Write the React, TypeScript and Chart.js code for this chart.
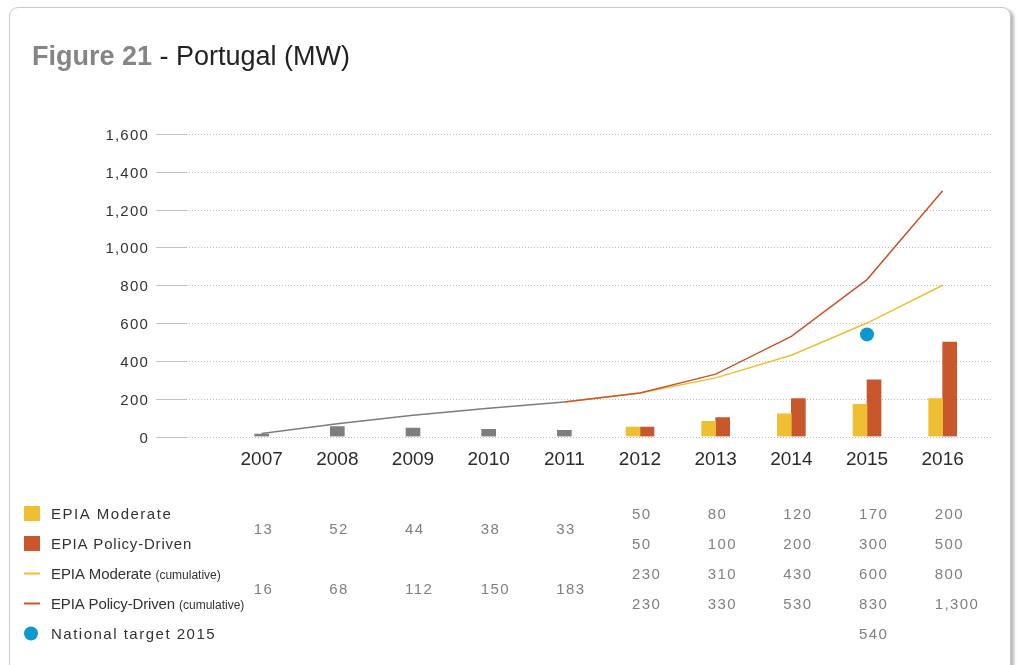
import React, { useEffect, useRef } from "react";
import { Chart, registerables } from "chart.js";

Chart.register(...registerables);

// ---------- data ----------
const years = [2007, 2008, 2009, 2010, 2011, 2012, 2013, 2014, 2015, 2016];
const historicalAnnual = [13, 52, 44, 38, 33, null, null, null, null, null];
const historicalCumulative = [16, 68, 112, 150, 183, null, null, null, null, null];
const moderateAnnual = [null, null, null, null, null, 50, 80, 120, 170, 200];
const policyAnnual = [null, null, null, null, null, 50, 100, 200, 300, 500];
const moderateCumulative = [null, null, null, null, 183, 230, 310, 430, 600, 800];
const policyCumulative = [null, null, null, null, 183, 230, 330, 530, 830, 1300];
const nationalTarget2015 = [null, null, null, null, null, null, null, null, 540, null];
const yTicks = [0, 200, 400, 600, 800, 1000, 1200, 1400, 1600];
const firstScenarioYearIndex = 5;

// ---------- style ----------
const YELLOW = "#F0BE32";
const ORANGE = "#C8572C";
const GRAY_BAR = "#7E7E82";
const GRAY_LINE = "#7C7C7C";
const BLUE = "#0A98CF";
const FONT = '"Liberation Sans", Arial, Helvetica, sans-serif';

const legendItems = [
  { label: "EPIA Moderate", sub: "", kind: "square", color: YELLOW, spacing: 1.5 },
  { label: "EPIA Policy-Driven", sub: "", kind: "square", color: ORANGE, spacing: 0.8 },
  { label: "EPIA Moderate", sub: "(cumulative)", kind: "line", color: YELLOW, spacing: -0.1 },
  { label: "EPIA Policy-Driven", sub: "(cumulative)", kind: "line", color: ORANGE, spacing: -0.15 },
  { label: "National target 2015", sub: "", kind: "dot", color: BLUE, spacing: 1.5 },
];

// table rows: values, row position (0 = first legend row), first index shown
const tableRows: { values: (number | null)[]; row: number; from: number }[] = [
  { values: historicalAnnual, row: 0.5, from: 0 },
  { values: historicalCumulative, row: 2.5, from: 0 },
  { values: moderateAnnual, row: 0, from: firstScenarioYearIndex },
  { values: policyAnnual, row: 1, from: firstScenarioYearIndex },
  { values: moderateCumulative, row: 2, from: firstScenarioYearIndex },
  { values: policyCumulative, row: 3, from: firstScenarioYearIndex },
  { values: nationalTarget2015, row: 4, from: firstScenarioYearIndex },
];

const ROW0 = 513.5;
const ROW_STEP = 30;

const overlayPlugin = {
  id: "overlay",
  beforeDatasetsDraw(chart: any) {
    const { ctx, chartArea, scales } = chart;
    const y = scales.y;
    ctx.save();
    // dotted grid
    ctx.lineWidth = 1;
    ctx.strokeStyle = "#bdbdbd";
    ctx.setLineDash([1, 2]);
    for (const t of yTicks) {
      const py = Math.round(y.getPixelForValue(t)) + 0.5;
      ctx.beginPath();
      ctx.moveTo(chartArea.left, py);
      ctx.lineTo(chartArea.right, py);
      ctx.stroke();
    }
    // solid tick marks
    ctx.setLineDash([]);
    ctx.strokeStyle = "#c2c2c2";
    for (const t of yTicks) {
      const py = Math.round(y.getPixelForValue(t)) + 0.5;
      ctx.beginPath();
      ctx.moveTo(chartArea.left - 30, py);
      ctx.lineTo(chartArea.left, py);
      ctx.stroke();
    }
    // labels
    ctx.fillStyle = "#333333";
    ctx.font = `15px ${FONT}`;
    (ctx as any).letterSpacing = "1.2px";
    ctx.textAlign = "right";
    ctx.textBaseline = "alphabetic";
    for (const t of yTicks) {
      const py = y.getPixelForValue(t);
      ctx.fillText(t.toLocaleString("en-US"), chartArea.left - 37, py + 6);
    }
    ctx.restore();
  },
  afterDraw(chart: any) {
    const { ctx, scales } = chart;
    const x = scales.x;
    ctx.save();
    ctx.textBaseline = "alphabetic";
    ctx.textAlign = "left";
    // legend
    legendItems.forEach((item, i) => {
      const cy = ROW0 + i * ROW_STEP;
      ctx.fillStyle = item.color;
      if (item.kind === "square") {
        ctx.fillRect(24, cy - 7.5, 16, 15);
      } else if (item.kind === "line") {
        ctx.fillRect(24, cy - 1, 16, 2);
      } else {
        ctx.beginPath();
        ctx.arc(31, cy, 7, 0, Math.PI * 2);
        ctx.fill();
      }
      ctx.fillStyle = "#333333";
      ctx.font = `15px ${FONT}`;
      (ctx as any).letterSpacing = `${item.spacing}px`;
      ctx.fillText(item.label, 51, cy + 5.5);
      if (item.sub) {
        const w = ctx.measureText(item.label).width;
        ctx.font = `12px ${FONT}`;
        (ctx as any).letterSpacing = "0px";
        ctx.fillText(item.sub, 51 + w + 4, cy + 5.5);
      }
    });
    // numbers
    ctx.fillStyle = "#808080";
    ctx.font = `15px ${FONT}`;
    (ctx as any).letterSpacing = "1.4px";
    for (const r of tableRows) {
      const cy = ROW0 + r.row * ROW_STEP;
      r.values.forEach((v, i) => {
        if (v === null || i < r.from) return;
        const px = x.getPixelForValue(years[i]);
        ctx.fillText(v.toLocaleString("en-US"), px - 8, cy + 5.5);
      });
    }
    ctx.restore();
  },
};

export default function App() {
  const canvasRef = useRef<HTMLCanvasElement | null>(null);

  useEffect(() => {
    if (!canvasRef.current) return;
    const chart = new Chart(canvasRef.current, {
      type: "bar",
      data: {
        labels: years,
        datasets: [
          {
            type: "line",
            label: "National target 2015",
            data: nationalTarget2015,
            showLine: false,
            pointRadius: 7,
            pointHoverRadius: 7,
            pointBackgroundColor: BLUE,
            pointBorderWidth: 0,
            borderColor: BLUE,
            order: 0,
          },
          {
            type: "line",
            label: "EPIA Policy-Driven (cumulative)",
            data: policyCumulative,
            borderColor: ORANGE,
            borderWidth: 1.5,
            pointRadius: 0,
            tension: 0,
            order: 1,
          },
          {
            type: "line",
            label: "EPIA Moderate (cumulative)",
            data: moderateCumulative,
            borderColor: YELLOW,
            borderWidth: 1.5,
            pointRadius: 0,
            tension: 0,
            order: 2,
          },
          {
            type: "line",
            label: "Historical (cumulative)",
            data: historicalCumulative,
            borderColor: GRAY_LINE,
            borderWidth: 1.5,
            pointRadius: 0,
            tension: 0,
            order: 3,
          },
          {
            type: "bar",
            label: "Historical",
            data: historicalAnnual,
            backgroundColor: GRAY_BAR,
            barThickness: 14,
            skipNull: true,
            order: 4,
          },
          {
            type: "bar",
            label: "EPIA Moderate",
            data: moderateAnnual,
            backgroundColor: YELLOW,
            barThickness: 14,
            skipNull: true,
            order: 5,
          },
          {
            type: "bar",
            label: "EPIA Policy-Driven",
            data: policyAnnual,
            backgroundColor: ORANGE,
            barThickness: 14,
            skipNull: true,
            order: 6,
          },
        ] as any,
      },
      options: {
        responsive: false,
        animation: false,
        devicePixelRatio: 1,
        events: [],
        layout: { padding: { left: 0, top: 134, right: 24, bottom: 195.5 } },
        plugins: { legend: { display: false }, tooltip: { enabled: false } },
        scales: {
          x: {
            type: "linear",
            offset: false,
            min: 2006,
            max: 2016.665,
            grid: { display: false, drawTicks: false, offset: false },
            border: { display: false },
            afterBuildTicks: (s: any) => {
              s.ticks = years.map((v) => ({ value: v }));
            },
            afterFit: (s: any) => {
              s.height = 33;
            },
            ticks: {
              display: true,
              autoSkip: false,
              maxRotation: 0,
              minRotation: 0,
              padding: 12,
              color: "#2b2b2b",
              font: { size: 19, family: FONT },
              callback: (v: any) => String(v),
            },
          },
          y: {
            type: "linear",
            min: 0,
            max: 1600,
            grid: { display: false, drawTicks: false },
            border: { display: false },
            ticks: { display: false, stepSize: 200 },
            afterFit: (s: any) => {
              s.width = 186;
            },
          },
        },
      } as any,
      plugins: [overlayPlugin],
    });
    return () => chart.destroy();
  }, []);

  return (
    <div style={{ position: "absolute", left: 0, top: 0, width: 1017, height: 665, overflow: "hidden", background: "#ffffff" }}>
      <div
        style={{
          position: "absolute",
          left: 9,
          top: 7,
          width: 1000,
          height: 720,
          border: "1px solid #c8c8c8",
          borderRadius: 9,
          boxShadow: "3px 2px 3px rgba(0,0,0,0.28)",
          background: "#ffffff",
        }}
      />
      <canvas ref={canvasRef} width={1017} height={665} style={{ position: "absolute", left: 0, top: 0 }} />
      <div
        style={{
          position: "absolute",
          left: 32,
          top: 41,
          font: `27px ${FONT}`,
          lineHeight: "30px",
          whiteSpace: "nowrap",
          color: "#222222",
        }}
      >
        <span style={{ fontWeight: "bold", color: "#858585" }}>Figure 21</span> - Portugal (MW)
      </div>
    </div>
  );
}
